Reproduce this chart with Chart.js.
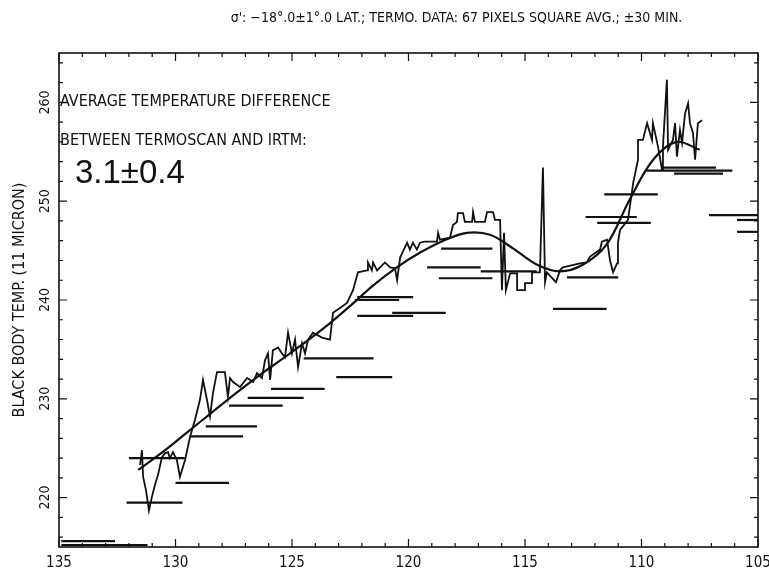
<!DOCTYPE html>
<html>
<head>
<meta charset="utf-8">
<title>Termoscan vs IRTM</title>
<script src="https://cdn.jsdelivr.net/npm/chart.js@4/dist/chart.umd.min.js"></script>
<style>
  html, body { margin: 0; padding: 0; background: #fff; }
  #wrap { width: 769px; height: 570px; position: relative; }
</style>
</head>
<body>
<div id="wrap"><canvas id="chart"></canvas></div>
<script>
// Black body temperature (11 micron) against longitude:
// Termoscan trace, its smooth fit, and IRTM footprints as flat bars.
// All values.

const chartTitle = "\u03C3': \u221218\u00B0.0\u00B11\u00B0.0 LAT.; TERMO. DATA: 67 PIXELS SQUARE AVG.; \u00B130 MIN.";
const xTickLabels = [135, 130, 125, 120, 115, 110, 105];
const yTickLabels = [220, 230, 240, 250, 260];

// Termoscan trace
const scanLon = [131.52, 131.44, 131.39, 131.27, 131.14, 131.01, 130.88, 130.75, 130.58, 130.45,
  130.32, 130.24, 130.11, 129.94, 129.81, 129.72, 129.59, 129.38, 129.16, 128.95,
  128.82, 128.65, 128.52, 128.39, 128.22, 127.88, 127.75, 127.66, 127.53, 127.23,
  126.93, 126.67, 126.50, 126.29, 126.16, 126.03, 125.94, 125.82, 125.60, 125.43,
  125.30, 125.17, 125.00, 124.87, 124.74, 124.57, 124.44, 124.31, 124.10, 123.71,
  123.37, 123.24, 122.94, 122.64, 122.38, 122.17, 121.78, 121.74, 121.57, 121.52,
  121.35, 121.01, 120.79, 120.58, 120.49, 120.36, 120.24, 120.06, 119.94, 119.81,
  119.64, 119.51, 119.29, 118.78, 118.73, 118.65, 118.22, 118.09, 117.92, 117.88,
  117.66, 117.58, 117.27, 117.23, 117.15, 116.72, 116.63, 116.37, 116.29, 116.07,
  115.99, 115.90, 115.82, 115.64, 115.34, 115.34, 115.00, 115.00, 114.70, 114.70,
  114.36, 114.23, 114.14, 114.06, 113.67, 113.50, 113.37, 112.64, 112.34, 112.21,
  111.78, 111.70, 111.48, 111.35, 111.22, 111.05, 111.01, 110.92, 110.58, 110.36,
  110.15, 110.15, 109.94, 109.76, 109.55, 109.51, 109.29, 109.12, 109.08, 108.91,
  108.86, 108.65, 108.56, 108.48, 108.35, 108.26, 108.13, 108.00, 107.92, 107.79,
  107.70, 107.58, 107.40];
const scanTemp = [223.3, 224.8, 222.1, 220.8, 218.7, 220.1, 221.3, 222.3, 224.1, 224.5,
  224.6, 224.0, 224.6, 223.8, 222.1, 222.8, 223.8, 226.1, 227.9, 229.9,
  231.9, 229.9, 228.2, 230.6, 232.7, 232.7, 230.2, 232.1, 231.7, 231.2,
  232.1, 231.7, 232.6, 232.1, 233.9, 234.6, 231.9, 234.9, 235.2, 234.6,
  234.2, 236.7, 234.6, 236.0, 233.2, 235.6, 234.6, 236.0, 236.7, 236.2,
  236.0, 238.7, 239.2, 239.7, 241.0, 242.8, 243.0, 243.8, 243.0, 243.8,
  243.0, 243.8, 243.3, 243.2, 242.0, 244.3, 244.9, 245.8, 245.1, 245.8,
  245.1, 245.8, 245.9, 245.9, 246.8, 246.1, 246.3, 247.6, 247.9, 248.8,
  248.8, 247.9, 247.9, 248.9, 247.9, 247.9, 248.9, 248.9, 248.1, 248.1,
  241.0, 246.8, 241.0, 242.7, 242.7, 241.0, 241.0, 241.7, 241.7, 242.8,
  242.8, 253.4, 241.8, 242.8, 241.8, 243.0, 243.3, 243.7, 243.8, 244.4,
  245.1, 245.9, 246.1, 244.0, 242.8, 243.7, 245.8, 247.1, 248.1, 251.8,
  254.2, 256.2, 256.2, 257.9, 256.2, 257.9, 255.5, 253.2, 255.5, 262.3,
  255.2, 256.2, 257.9, 254.5, 257.2, 255.9, 258.9, 259.9, 257.9, 256.9,
  254.2, 257.9, 258.2];

// smooth fit through the trace
const fitLon = [131.6, 130.5, 129.5, 128.5, 127.5, 126.5, 125.5, 124.5, 123.5, 122.5,
  121.5, 120.5, 119.5, 118.5, 117.5, 116.5, 115.5, 114.5, 113.5, 112.5,
  111.5, 110.5, 109.5, 108.5, 107.5];
const fitTemp = [222.8, 224.7, 226.6, 228.5, 230.4, 232.2, 233.9, 235.6, 237.4, 239.4,
  241.5, 243.3, 244.8, 246.0, 246.8, 246.6, 245.2, 243.6, 242.9, 243.6,
  245.6, 250.2, 254.2, 256.0, 255.2];

// IRTM footprints: temperature, longitude from / to
const irtmTemp = [215.6, 215.2, 219.5, 224.0, 221.5, 226.2, 227.2, 229.3, 230.1, 231.0,
  234.1, 232.2, 240.3, 240.0, 238.4, 238.7, 245.2, 243.3, 242.2, 242.9,
  242.3, 239.1, 250.7, 248.4, 247.8, 253.4, 253.1, 252.8, 248.6, 248.1, 246.9];
const irtmFrom = [134.9, 134.9, 132.1, 132.0, 130.0, 129.4, 128.7, 127.7, 126.9, 125.9,
  124.5, 123.1, 122.2, 122.3, 122.2, 120.7, 118.6, 119.2, 118.7, 116.9,
  113.2, 113.8, 111.6, 112.4, 111.9, 109.1, 109.8, 108.6, 107.1, 105.9, 105.9];
const irtmTo = [132.6, 131.2, 129.7, 129.6, 127.7, 127.1, 126.5, 125.4, 124.5, 123.6,
  121.5, 120.7, 119.8, 120.4, 119.8, 118.4, 116.4, 116.9, 116.4, 114.5,
  111.0, 111.5, 109.3, 110.2, 109.6, 106.8, 106.1, 106.5, 105.0, 105.0, 105.0];

const ink = "#111";
const narrow = "'DejaVu Sans Condensed', 'Liberation Sans Narrow', 'DejaVu Sans', sans-serif";

const datasets = [];
datasets.push({
  data: scanLon.map((x, i) => ({ x, y: scanTemp[i] })),
  borderColor: ink, borderWidth: 1.8, pointRadius: 0, tension: 0
});
datasets.push({
  data: fitLon.map((x, i) => ({ x, y: fitTemp[i] })),
  borderColor: ink, borderWidth: 2.2, pointRadius: 0, tension: 0.35
});
irtmTemp.forEach((t, i) => {
  datasets.push({
    data: [{ x: irtmFrom[i], y: t }, { x: irtmTo[i], y: t }],
    borderColor: ink, borderWidth: 2.2, pointRadius: 0
  });
});

// frame, inward ticks on all sides, vertical y labels, title and the note
const framePlugin = {
  id: "frame",
  afterDraw(chart) {
    const { ctx, chartArea: a, scales: { x, y } } = chart;
    ctx.save();
    ctx.strokeStyle = ink;
    ctx.lineWidth = 1.6;
    ctx.strokeRect(a.left, a.top, a.right - a.left, a.bottom - a.top);

    ctx.lineWidth = 1.2;
    ctx.beginPath();
    for (let v = Math.ceil(x.min); v <= x.max; v++) {
      const px = x.getPixelForValue(v);
      const len = v % 5 === 0 ? 8 : 4;
      ctx.moveTo(px, a.bottom); ctx.lineTo(px, a.bottom - len);
      ctx.moveTo(px, a.top); ctx.lineTo(px, a.top + len);
    }
    for (let v = Math.ceil(y.min / 2) * 2; v <= y.max; v += 2) {
      const py = y.getPixelForValue(v);
      const len = v % 10 === 0 ? 8 : 4;
      ctx.moveTo(a.left, py); ctx.lineTo(a.left + len, py);
      ctx.moveTo(a.right, py); ctx.lineTo(a.right - len, py);
    }
    ctx.stroke();

    ctx.fillStyle = ink;
    ctx.font = "14px " + narrow;
    ctx.textAlign = "center";
    ctx.textBaseline = "middle";
    yTickLabels.forEach((v) => {
      ctx.save();
      ctx.translate(a.left - 14, y.getPixelForValue(v));
      ctx.rotate(-Math.PI / 2);
      ctx.fillText(String(v), 0, 0);
      ctx.restore();
    });

    ctx.font = "14px " + narrow;
    ctx.fillText(chartTitle, (a.left + a.right) / 2 + 48, 18);

    ctx.textAlign = "left";
    ctx.font = "16px " + narrow;
    ctx.fillText("AVERAGE TEMPERATURE DIFFERENCE", a.left + 1, a.top + 49);
    ctx.fillText("BETWEEN TERMOSCAN AND IRTM:", a.left + 1, a.top + 88);
    ctx.font = "33px 'Liberation Sans', Arial, sans-serif";
    ctx.fillText("3.1\u00B10.4", a.left + 16, a.top + 121);
    ctx.restore();
  }
};

new Chart(document.getElementById("chart"), {
  type: "line",
  data: { datasets },
  plugins: [framePlugin],
  options: {
    responsive: true,
    maintainAspectRatio: false,
    animation: false,
    layout: { padding: { left: 0, right: 11, top: 53, bottom: 0 } },
    plugins: {
      legend: { display: false },
      tooltip: { enabled: false },
      title: { display: false }
    },
    scales: {
      x: {
        type: "linear",
        min: 105,
        max: 135,
        reverse: true,
        grid: { display: false },
        border: { display: false },
        ticks: {
          stepSize: 5,
          color: ink,
          padding: -1,
          maxRotation: 0,
          font: { family: narrow, size: 15 },
          callback: (v) => (xTickLabels.includes(v) ? String(v) : "")
        },
        afterFit: (scale) => {
          scale.height = 23;
          scale.paddingLeft = 0;
          scale.paddingRight = 0;
        }
      },
      y: {
        type: "linear",
        min: 215,
        max: 265,
        grid: { display: false },
        border: { display: false },
        ticks: { display: false },
        title: {
          display: true,
          text: "BLACK BODY TEMP. (11 MICRON)",
          color: ink,
          font: { family: narrow, size: 16 },
          padding: { top: 10, bottom: 0 }
        },
        afterFit: (scale) => {
          scale.width = 59;
          scale.paddingTop = 0;
          scale.paddingBottom = 0;
        }
      }
    }
  }
});
</script>
</body>
</html>
